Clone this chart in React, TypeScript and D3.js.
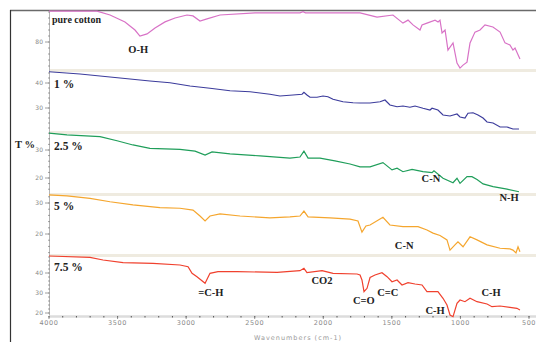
import React from "react";
import * as d3 from "d3";

// ---- data: [wavenumber (cm-1), T %] ----
const pureCotton: [number, number][] = [
  [4000, 90.3], [3650, 90.3], [3555, 89], [3446, 86.7], [3373, 84], [3337, 82], [3285, 82.7],
  [3227, 84.7], [3154, 86.7], [3081, 88], [2994, 89], [2950, 88.7], [2899, 87], [2848, 87.7],
  [2753, 89], [2498, 89.7], [2170, 89.7], [2148, 90.1], [2130, 89.7], [1951, 89.7], [1732, 89.7],
  [1608, 88.3], [1492, 89], [1419, 86.3], [1382, 87.3], [1346, 85.7], [1295, 84], [1280, 85.7],
  [1244, 86.3], [1185, 87.3], [1163, 86.7], [1149, 87.3], [1134, 83], [1112, 84], [1091, 77.3],
  [1054, 79.7], [1025, 73], [1003, 71.3], [981, 72.3], [952, 73.3], [930, 79.7], [894, 83.3],
  [857, 84], [821, 85.7], [763, 85], [711, 83.3], [675, 79.7], [639, 79], [617, 77.3], [602, 78],
  [566, 74.3],
];
const pct1: [number, number][] = [
  [4000, 44.5], [3774, 43.6], [3482, 42], [3264, 40.8], [3118, 40.1], [2972, 38.8], [2826, 37.9],
  [2680, 36.9], [2534, 36.5], [2389, 35.5], [2316, 34.8], [2221, 35.2], [2155, 35.5], [2141, 36.3],
  [2119, 35.2], [2097, 34.3], [2046, 34.3], [2002, 34.8], [1966, 34.5], [1929, 33.5], [1856, 32.5],
  [1783, 32.1], [1732, 32], [1659, 32], [1586, 32.5], [1550, 33.2], [1514, 31.2], [1462, 30.5],
  [1419, 30.8], [1368, 30.3], [1331, 30.8], [1273, 29.9], [1222, 29.2], [1207, 29.9], [1164, 29.2],
  [1127, 27.2], [1076, 26.8], [1025, 27.6], [1003, 26.4], [967, 26], [945, 27.9], [908, 28.1],
  [872, 27.2], [835, 26], [806, 24.4], [762, 24], [711, 22.4], [660, 22.4], [617, 21.6], [573, 21.6],
];
const pct25: [number, number][] = [
  [4000, 36], [3869, 35.4], [3628, 34.8], [3504, 33.3], [3388, 31.8], [3264, 30.6], [3045, 30.25],
  [2935, 29.6], [2862, 28.2], [2811, 29.3], [2680, 28.6], [2461, 27.9], [2243, 27.1], [2170, 27.5],
  [2141, 29.6], [2111, 27.1], [2024, 27.1], [1915, 26.1], [1805, 25], [1732, 24], [1659, 24],
  [1565, 25.5], [1499, 22.9], [1462, 23.5], [1419, 22.25], [1353, 23.1], [1273, 22.25], [1207, 21.9],
  [1193, 22.6], [1127, 19.9], [1054, 18.3], [1025, 19.9], [1003, 18.1], [952, 20.5], [916, 20.5],
  [879, 19.5], [835, 17.9], [762, 16.9], [660, 16], [573, 15.1],
];
const pct5: [number, number][] = [
  [4000, 32.6], [3869, 32.3], [3701, 31.5], [3555, 30.4], [3388, 29.4], [3191, 28.5], [3045, 28.3],
  [2950, 27.7], [2899, 25.8], [2862, 24.2], [2826, 25.8], [2753, 26.5], [2607, 25.8], [2389, 25.2],
  [2243, 25.5], [2170, 25.8], [2141, 27.4], [2111, 25.5], [1951, 25.2], [1805, 24.8], [1747, 24.2],
  [1718, 20.6], [1689, 22.6], [1659, 22.9], [1565, 25.4], [1514, 22.9], [1419, 22.4], [1309, 22.4],
  [1244, 21.3], [1200, 20.3], [1149, 19.5], [1098, 18.1], [1076, 14.8], [1040, 16.5], [1018, 17.5],
  [981, 15.9], [930, 19.1], [879, 18.1], [806, 16.5], [711, 15.4], [639, 15.2], [617, 14.8],
  [595, 13.9], [580, 15.9], [566, 14.3],
];
const pct75: [number, number][] = [
  [4000, 48.5], [3701, 47.85], [3606, 46.5], [3460, 45.15], [3242, 44.85], [3045, 44], [2986, 43.15],
  [2957, 39.85], [2921, 38.15], [2862, 34.85], [2826, 39.85], [2768, 40.65], [2629, 40.65],
  [2337, 40.35], [2170, 41.15], [2141, 42.35], [2119, 40.15], [2009, 41.15], [1929, 39.85],
  [1754, 39.5], [1732, 39], [1718, 36.5], [1703, 30.65], [1681, 32.35], [1659, 37.75], [1623, 39],
  [1572, 40.15], [1535, 38.15], [1499, 35.65], [1462, 36.5], [1426, 34], [1382, 35.15], [1331, 34.5],
  [1280, 34], [1244, 30.65], [1164, 30.65], [1127, 27.35], [1098, 24], [1076, 19], [1054, 18.15],
  [1025, 24.85], [1003, 26.5], [967, 25.65], [930, 27.35], [879, 25.65], [806, 24.5], [770, 23.15],
  [711, 23.5], [639, 22.85], [588, 22.35], [566, 21.5],
];

const sampleNames = ["pure cotton", "1 %", "2.5 %", "5 %", "7.5 %"];
const seriesColors = ["#d872c6", "#3c3c9c", "#1f9e5a", "#f5a62e", "#f0412e"];
const yDomains: [number, number][] = [[70.67, 90.67], [20.4, 44.8], [14.29, 36.07], [13.23, 32.58], [18.5, 48.5]];
const yTicks = [[80], [40, 30], [30, 20], [30, 20], [40, 30, 20]];
const xTicks = [4000, 3500, 3000, 2500, 2000, 1500, 1000, 500];

// band annotations: [text, x(cm-1), panel, panel y value]
const annotations: { t: string; wn: number; p: number; v: number }[] = [
  { t: "O-H", wn: 3350, p: 0, v: 76.3 },
  { t: "C-N", wn: 1215, p: 2, v: 18.6 },
  { t: "N-H", wn: 645, p: 3, v: 30.7 },
  { t: "C-N", wn: 1410, p: 3, v: 15.2 },
  { t: "=C-H", wn: 2820, p: 4, v: 28.5 },
  { t: "CO2", wn: 2010, p: 4, v: 34.5 },
  { t: "C=O", wn: 1705, p: 4, v: 24.5 },
  { t: "C=C", wn: 1530, p: 4, v: 28.5 },
  { t: "C-H", wn: 1185, p: 4, v: 19.5 },
  { t: "C-H", wn: 777, p: 4, v: 28.5 },
];

const W = 536, H = 342;
const plotL = 49, plotR = 536, axisY = 316;
const panelTops = [10, 71, 133, 195, 256];
const panelBots = [70, 132, 194, 255, 316];
const series = [pureCotton, pct1, pct25, pct5, pct75];

export default function App() {
  const x = d3.scaleLinear().domain([4000, 500]).range([49, 529]);
  const ys = yDomains.map((d, i) => d3.scaleLinear().domain(d).range([panelBots[i], panelTops[i]]));
  const serif = "'Liberation Serif', 'Times New Roman', serif";
  const sans = "'DejaVu Sans', Arial, sans-serif";
  const minorX = d3.range(4000, 499, -100);

  return (
    <svg width={W} height={H} style={{ position: "absolute", left: 0, top: 0, background: "#fff" }}>
      <rect x={0} y={0} width={W} height={H} fill="#fff" />
      {/* outer frame */}
      <line x1={10} x2={W} y1={10.5} y2={10.5} stroke="#6a6a6a" strokeWidth={1.5} />
      <line x1={10.5} x2={10.5} y1={10} y2={H} stroke="#333" strokeWidth={1.2} />
      {/* panel separators */}
      {panelBots.slice(0, 4).map((b, i) => (
        <rect key={i} x={plotL} y={b - 1} width={plotR - plotL} height={3} fill="#efebe0" />
      ))}
      {/* left axis */}
      <line x1={plotL + 0.5} x2={plotL + 0.5} y1={11} y2={axisY} stroke="#b5b5b5" strokeWidth={1} />
      {ys.map((y, i) => {
        const [lo, hi] = yDomains[i];
        const minors = d3.range(Math.ceil(lo / 2) * 2, hi, 2);
        return (
          <g key={i}>
            {minors.map((m) => (
              <line key={m} x1={plotL - 1} x2={plotL + 1} y1={y(m)} y2={y(m)} stroke="#888" strokeWidth={0.8} />
            ))}
            {yTicks[i].map((t) => (
              <g key={t}>
                <line x1={plotL - 4} x2={plotL} y1={y(t)} y2={y(t)} stroke="#888" strokeWidth={0.8} />
                <text x={plotL - 6} y={y(t) + 2} fontSize={6} fill="#8a8a8a" textAnchor="end" fontFamily={sans}>
                  {t}
                </text>
              </g>
            ))}
          </g>
        );
      })}
      {/* bottom axis */}
      <line x1={plotL} x2={plotR} y1={axisY + 0.5} y2={axisY + 0.5} stroke="#dcdcdc" strokeWidth={2.5} />
      {minorX.map((m) => (
        <rect key={m} x={x(m) - 0.5} y={axisY} width={1} height={1.5} fill="#555" />
      ))}
      {xTicks.map((t) => (
        <g key={t}>
          <line x1={x(t)} x2={x(t)} y1={axisY} y2={axisY + 3} stroke="#777" strokeWidth={0.8} />
          <text x={x(t)} y={325} fontSize={6.5} fill="#8a8a8a" textAnchor="middle" fontFamily={sans} letterSpacing={0.6}>
            {t}
          </text>
        </g>
      ))}
      <text x={298} y={340} fontSize={6.5} fill="#9a9a9a" textAnchor="middle" fontFamily={sans} letterSpacing={1}>
        Wavenumbers (cm-1)
      </text>
      {/* spectra */}
      {series.map((s, i) => {
        const line = d3
          .line<[number, number]>()
          .x((d) => x(d[0]))
          .y((d) => ys[i](d[1]));
        return <path key={i} d={line(s) || ""} fill="none" stroke={seriesColors[i]} strokeWidth={1.2} />;
      })}
      {/* sample labels */}
      {sampleNames.map((n, i) => (
        <text
          key={n}
          x={i === 0 ? 52 : 54}
          y={[23, 88, 150, 210, 271][i]}
          fontSize={i === 0 ? 10 : 11.5}
          fontWeight="bold"
          fill="#222"
          fontFamily={serif}
        >
          {n}
        </text>
      ))}
      <text x={15} y={148} fontSize={10.5} fontWeight="bold" fill="#222" fontFamily={serif}>
        T %
      </text>
      {annotations.map((a, i) => (
        <text
          key={i}
          x={x(a.wn)}
          y={ys[a.p](a.v)}
          fontSize={10.5}
          fontWeight="bold"
          fill="#222"
          textAnchor="middle"
          fontFamily={serif}
        >
          {a.t}
        </text>
      ))}
    </svg>
  );
}
